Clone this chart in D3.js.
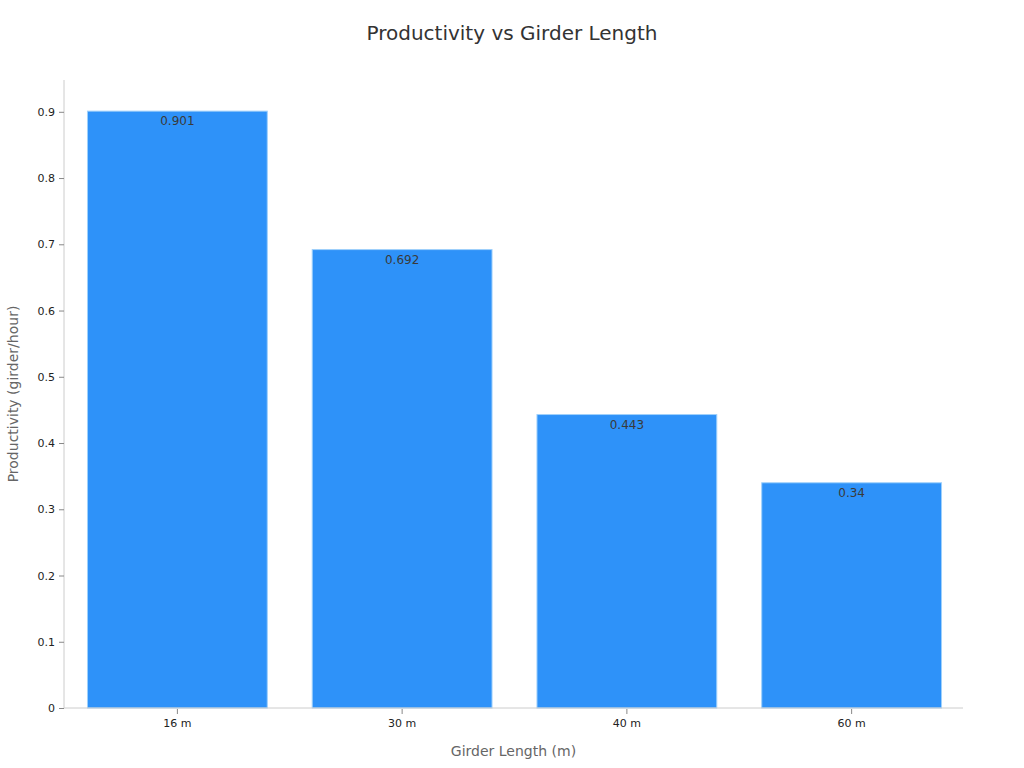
<!DOCTYPE html>
<html>
<head>
<meta charset="utf-8">
<script src="https://cdn.jsdelivr.net/npm/d3@7"></script>
<style>
  body { margin: 0; background: #fff; }
  svg { font-family: "DejaVu Sans", sans-serif; }
</style>
</head>
<body>
<svg id="chart" width="1024" height="768"></svg>
<script>
// data
const lengths = ["16 m", "30 m", "40 m", "60 m"];
const productivity = [0.901, 0.692, 0.443, 0.34];
const yTicks = [0, 0.1, 0.2, 0.3, 0.4, 0.5, 0.6, 0.7, 0.8, 0.9];

const margin = { top: 80, right: 61, bottom: 60, left: 64 };
const width = 1024 - margin.left - margin.right;
const height = 768 - margin.top - margin.bottom;

const svg = d3.select('#chart');

svg.append('text')
  .attr('x', 512)
  .attr('y', 40)
  .attr('text-anchor', 'middle')
  .attr('font-size', 20)
  .attr('fill', '#333')
  .text('Productivity vs Girder Length');

const g = svg.append('g')
  .attr('transform', `translate(${margin.left},${margin.top})`);

const x = d3.scaleBand()
  .domain(lengths)
  .range([1, width + 1])
  .paddingInner(0.2)
  .paddingOuter(0.1);

const y = d3.scaleLinear()
  .domain([0, 0.948])
  .range([height, 0]);

// bars
g.selectAll('rect.bar')
  .data(lengths)
  .join('rect')
    .attr('class', 'bar')
    .attr('x', d => x(d))
    .attr('y', (d, i) => y(productivity[i]))
    .attr('width', x.bandwidth())
    .attr('height', (d, i) => height - y(productivity[i]))
    .attr('fill', '#2E92F9')
    .attr('stroke', '#9fd0fb')
    .attr('stroke-width', 1);

// value labels
g.selectAll('text.val')
  .data(lengths)
  .join('text')
    .attr('class', 'val')
    .attr('x', d => x(d) + x.bandwidth() / 2)
    .attr('y', (d, i) => y(productivity[i]) + 14)
    .attr('text-anchor', 'middle')
    .attr('font-size', 12)
    .attr('fill', '#3a3a3a')
    .text((d, i) => productivity[i]);

// axes
const xAxis = g.append('g')
  .attr('transform', `translate(0,${height})`)
  .call(d3.axisBottom(x).tickSize(5).tickPadding(6));
xAxis.select('.domain').attr('stroke', '#ccc').attr('d', `M0,0H${width}`);
xAxis.selectAll('.tick line').attr('stroke', '#888').attr('y1', 1).attr('y2', 6);
xAxis.selectAll('.tick text').attr('font-size', 11).attr('fill', '#222')
  .attr('font-family', '"DejaVu Sans", sans-serif');

const yAxis = g.append('g')
  .call(d3.axisLeft(y).tickValues(yTicks).tickFormat(d3.format('~g')).tickSize(5).tickPadding(4));
yAxis.select('.domain').attr('stroke', '#ccc').attr('d', `M0,0V${height}`);
yAxis.selectAll('.tick line').attr('stroke', '#888');
yAxis.selectAll('.tick text').attr('font-size', 11).attr('fill', '#222')
  .attr('font-family', '"DejaVu Sans", sans-serif');

// axis labels
svg.append('text')
  .attr('x', margin.left + width / 2)
  .attr('y', 756)
  .attr('text-anchor', 'middle')
  .attr('font-size', 14)
  .attr('fill', '#666')
  .text('Girder Length (m)');

svg.append('text')
  .attr('transform', `translate(18,${margin.top + height / 2}) rotate(-90)`)
  .attr('text-anchor', 'middle')
  .attr('font-size', 14)
  .attr('fill', '#666')
  .text('Productivity (girder/hour)');
</script>
</body>
</html>
